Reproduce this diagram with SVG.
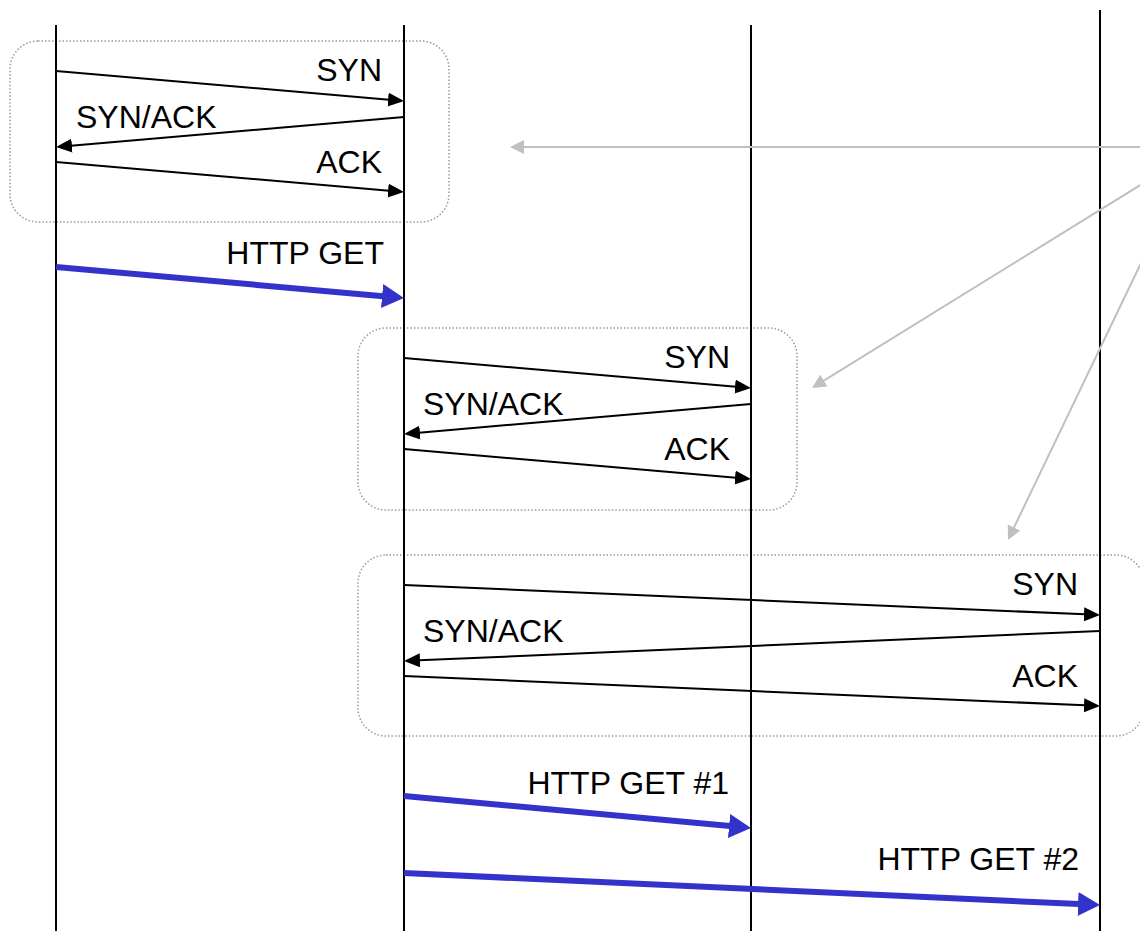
<svg xmlns="http://www.w3.org/2000/svg" width="1140" height="931" viewBox="0 0 1140 931">
<style>
.life{stroke:#000;stroke-width:2;fill:none}
.box{fill:none;stroke:#9a9a9a;stroke-width:1.5;stroke-dasharray:1.5 2}
.msg{stroke:#000;stroke-width:2;fill:none;marker-end:url(#ah)}
.get{stroke:#3333cc;stroke-width:6;fill:none;marker-end:url(#bh)}
.note{stroke:#c0c0c0;stroke-width:2;fill:none;marker-end:url(#gh)}
text{font-family:"Liberation Sans",Arial,sans-serif;font-size:32px;fill:#000}
.r{text-anchor:end}
</style>
<defs>
<marker id="ah" markerUnits="userSpaceOnUse" markerWidth="16" markerHeight="14" refX="1" refY="7" orient="auto"><path d="M0,0 L16,7 L0,14 z" fill="#000"/></marker>
<marker id="bh" markerUnits="userSpaceOnUse" markerWidth="22" markerHeight="24" refX="1" refY="12" orient="auto"><path d="M0,0 L22,12 L0,24 z" fill="#3333cc"/></marker>
<marker id="gh" markerUnits="userSpaceOnUse" markerWidth="14" markerHeight="14" refX="1" refY="7" orient="auto"><path d="M0,0 L14,7 L0,14 z" fill="#c0c0c0"/></marker>
</defs>
<g id="groups">
<rect id="box1" class="box" x="10" y="41" width="439" height="181" rx="28" ry="28"/>
<rect id="box2" class="box" x="358" y="328" width="439" height="182" rx="28" ry="28"/>
<rect id="box3" class="box" x="358" y="555" width="786" height="181" rx="28" ry="28"/>
</g>
<g id="lifelines">
<line id="ll1" class="life" x1="56" y1="25" x2="56" y2="931"/>
<line id="ll2" class="life" x1="404" y1="25" x2="404" y2="931"/>
<line id="ll3" class="life" x1="751" y1="25" x2="751" y2="931"/>
<line id="ll4" class="life" x1="1100" y1="10" x2="1100" y2="931"/>
</g>
<g id="connectors">
<line class="msg" x1="56" y1="71" x2="389.06" y2="99.71"/>
<line class="msg" x1="404" y1="117" x2="70.94" y2="145.71"/>
<line class="msg" x1="56" y1="162" x2="389.06" y2="190.71"/>
<line class="get" x1="56" y1="267" x2="383.08" y2="296.14"/>
<line class="msg" x1="404" y1="358" x2="736.06" y2="386.71"/>
<line class="msg" x1="751" y1="404" x2="418.94" y2="432.71"/>
<line class="msg" x1="404" y1="449" x2="736.06" y2="477.71"/>
<line class="msg" x1="404" y1="585" x2="1085.01" y2="614.35"/>
<line class="msg" x1="1100" y1="631" x2="418.99" y2="660.35"/>
<line class="msg" x1="404" y1="676" x2="1085.01" y2="705.35"/>
<line class="get" x1="404" y1="796" x2="730.09" y2="826.07"/>
<line class="get" x1="404" y1="873" x2="1079.02" y2="904.04"/>
<line class="note" x1="1142" y1="147" x2="523" y2="147"/>
<line class="note" x1="1142" y1="184" x2="823.06" y2="381.16"/>
<line class="note" x1="1141" y1="263" x2="1013.63" y2="528.28"/>
</g>
<g id="labels">
<text class="r" x="382" y="81">SYN</text>
<text x="76" y="128">SYN/ACK</text>
<text class="r" x="382" y="173">ACK</text>
<text class="r" x="384" y="264">HTTP GET</text>
<text class="r" x="730" y="368">SYN</text>
<text x="423" y="415">SYN/ACK</text>
<text class="r" x="730" y="460">ACK</text>
<text class="r" x="1078" y="595">SYN</text>
<text x="423" y="642">SYN/ACK</text>
<text class="r" x="1078" y="687">ACK</text>
<text class="r" x="729" y="794">HTTP GET #1</text>
<text class="r" x="1079" y="870">HTTP GET #2</text>
</g>
</svg>
